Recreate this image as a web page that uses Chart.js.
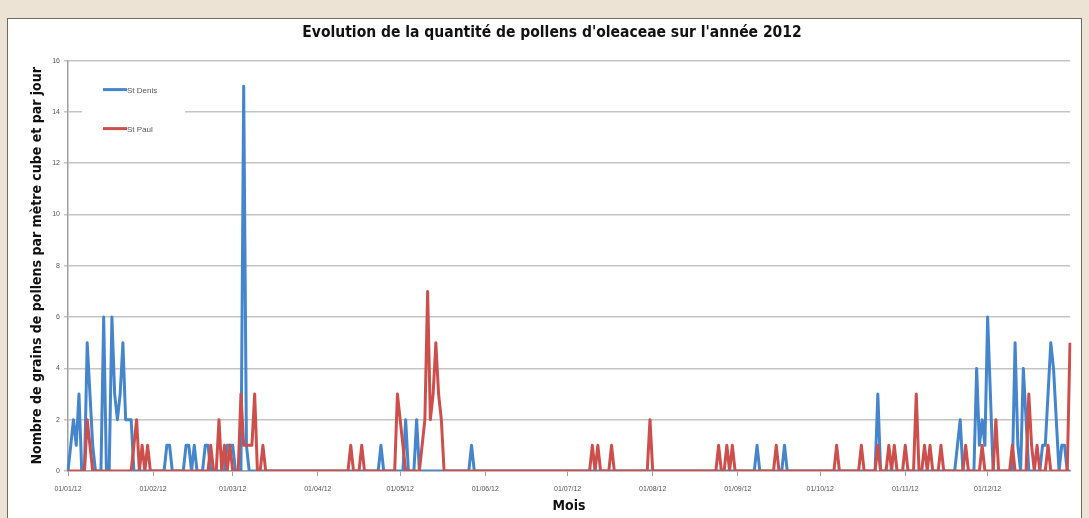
<!DOCTYPE html>
<html>
<head>
<meta charset="utf-8">
<title>Pollens d'oleaceae 2012</title>
<script src="https://cdn.jsdelivr.net/npm/chart.js@4.4.1/dist/chart.umd.min.js"></script>
<style>
html, body { margin: 0; padding: 0; background: #ece3d5; overflow: hidden; }
#frame { position: absolute; left: 7px; top: 18px; width: 1073px; height: 520px; background: #fff; border: 1px solid #6f6a64; }
#wrap { position: absolute; left: 0; top: 0; width: 1089px; height: 518px; }
</style>
</head>
<body>
<div id="frame"></div>
<div id="wrap"><canvas id="mycanvas"></canvas></div>
<script>
// tick labels shown on the x axis (first day of each month)
var monthLabels = ["01/01/12", "01/02/12", "01/03/12", "01/04/12", "01/05/12", "01/06/12",
                   "01/07/12", "01/08/12", "01/09/12", "01/10/12", "01/11/12", "01/12/12"];

// St Denis : day of year (0 = 1st january) and grains per m3, other days are 0
var stDenisDays = [1, 2, 3, 4, 7, 8, 9, 13, 16, 17, 18, 19, 20, 21, 22, 23,
                   36, 37, 43, 44, 46, 50, 51, 58, 59, 60, 64, 65,
                   114, 123, 127, 147, 251, 261,
                   295, 324, 325, 331, 332, 333, 334, 335, 336, 345, 346, 348, 349,
                   355, 356, 357, 358, 359, 360, 362, 363];
var stDenisValues = [1, 2, 1, 3, 5, 3, 1, 6, 6, 3, 2, 3, 5, 2, 2, 2,
                     1, 1, 1, 1, 1, 1, 1, 1, 1, 1, 15, 1,
                     1, 2, 2, 1, 1, 1,
                     3, 1, 2, 4, 1, 2, 1, 6, 3, 5, 1, 4, 2,
                     1, 1, 3, 5, 4, 2, 1, 1];

// St Paul
var stPaulDays = [7, 8, 24, 25, 27, 29, 52, 55, 57, 59, 63, 64, 65, 66, 67, 68, 71,
                  103, 107, 120, 121, 122, 129, 130, 131, 132, 133, 134, 135, 136,
                  191, 193, 198, 212, 237, 240, 242, 258, 280, 289,
                  295, 299, 301, 305, 309, 312, 314, 318, 327, 333, 338, 344, 350, 351, 353, 357, 365];
var stPaulValues = [2, 1, 1, 2, 1, 1, 1, 2, 1, 1, 3, 1, 1, 1, 1, 3, 1,
                    1, 1, 3, 2, 1, 1, 2, 7, 2, 3, 5, 3, 2,
                    1, 1, 1, 2, 1, 1, 1, 1, 1, 1,
                    1, 1, 1, 1, 3, 1, 1, 1, 1, 1, 2, 1, 3, 1, 1, 1, 5];

function pad(n) { return (n < 10 ? "0" : "") + n; }

var dayLabels = [];
for (var d = 0; d < 366; d++) {
    var dt = new Date(Date.UTC(2012, 0, 1 + d));
    dayLabels.push(pad(dt.getUTCDate()) + "/" + pad(dt.getUTCMonth() + 1) + "/12");
}

function toDaily(days, values) {
    var out = [];
    for (var i = 0; i < dayLabels.length; i++) out.push(0);
    for (var j = 0; j < days.length; j++) out[days[j]] = values[j];
    return out;
}

function isMonthStart(i) { return monthLabels.indexOf(dayLabels[i]) >= 0; }

var narrow = "'Liberation Sans Narrow', 'DejaVu Sans Condensed', Lato, sans-serif";
var small = "'Liberation Sans', Arial, sans-serif";

// legend drawn inside the plot, top left, like the excel one
var legendBox = {
    id: 'legendBox',
    afterDatasetsDraw: function(chart) {
        var ctx = chart.ctx, a = chart.chartArea;
        ctx.save();
        ctx.fillStyle = "#fff";
        ctx.fillRect(a.left + 14, a.top + 7, 103, 84);
        chart.data.datasets.forEach(function(ds, i) {
            var y = a.top + 29 + i * 39;
            ctx.strokeStyle = ds.borderColor;
            ctx.lineWidth = 3;
            ctx.beginPath();
            ctx.moveTo(a.left + 35, y);
            ctx.lineTo(a.left + 59, y);
            ctx.stroke();
            ctx.fillStyle = "#555";
            ctx.font = "8px " + small;
            ctx.textBaseline = "middle";
            ctx.fillText(ds.label, a.left + 59, y + 1);
        });
        ctx.restore();
    }
};

var ctx = document.getElementById("mycanvas");

var LineGraph = new Chart(ctx, {
    type: 'line',
    data: {
        labels: dayLabels,
        datasets: [
            {
                label: "St Denis",
                data: toDaily(stDenisDays, stDenisValues),
                borderColor: "#4485cc",
                borderWidth: 3,
                pointRadius: 0,
                tension: 0,
                fill: false,
                borderJoinStyle: 'round',
                order: 1
            },
            {
                label: "St Paul",
                data: toDaily(stPaulDays, stPaulValues),
                borderColor: "#cd4f4c",
                borderWidth: 3,
                pointRadius: 0,
                tension: 0,
                fill: false,
                borderJoinStyle: 'round',
                order: 0
            }
        ]
    },
    options: {
        responsive: true,
        maintainAspectRatio: false,
        animation: false,
        layout: { padding: { left: 34, right: 19, top: 0, bottom: 0 } },
        plugins: {
            legend: { display: false },
            tooltip: { enabled: false },
            title: {
                display: true,
                text: "Evolution de la quantité de pollens d'oleaceae sur l'année 2012",
                color: "#111",
                font: { family: narrow, size: 15.5, weight: 'bold' },
                padding: { top: 24, bottom: 18 }
            }
        },
        scales: {
            x: {
                type: 'category',
                offset: false,
                border: { display: true, color: "#a0a0a0", width: 1.5 },
                grid: {
                    drawOnChartArea: false,
                    drawTicks: true,
                    tickLength: 5,
                    color: function(c) { return isMonthStart(c.index) ? "#a0a0a0" : "rgba(0,0,0,0)"; }
                },
                ticks: {
                    autoSkip: false,
                    maxRotation: 0,
                    minRotation: 0,
                    padding: 9,
                    color: "#555",
                    font: { family: small, size: 7 },
                    callback: function(v, i) { return isMonthStart(i) ? dayLabels[i] : ""; }
                },
                title: {
                    display: true,
                    text: "Mois",
                    color: "#111",
                    font: { family: narrow, size: 14, weight: 'bold' },
                    padding: { top: 2, bottom: 3 }
                },
                afterFit: function(s) { s.height = 47; }
            },
            y: {
                min: 0,
                max: 16,
                border: { display: true, color: "#a0a0a0", width: 1.5 },
                grid: { color: "#c4c4c4", lineWidth: 1.5, drawTicks: true, tickLength: 4 },
                ticks: {
                    stepSize: 2,
                    padding: 4,
                    color: "#555",
                    font: { family: small, size: 7 }
                },
                title: {
                    display: true,
                    text: "Nombre de grains de pollens par mètre cube et par jour",
                    color: "#111",
                    font: { family: narrow, size: 14, weight: 'bold' },
                    padding: { top: -5, bottom: 4 }
                },
                afterFit: function(s) { s.width = 34; }
            }
        }
    },
    plugins: [legendBox]
});
</script>
</body>
</html>
